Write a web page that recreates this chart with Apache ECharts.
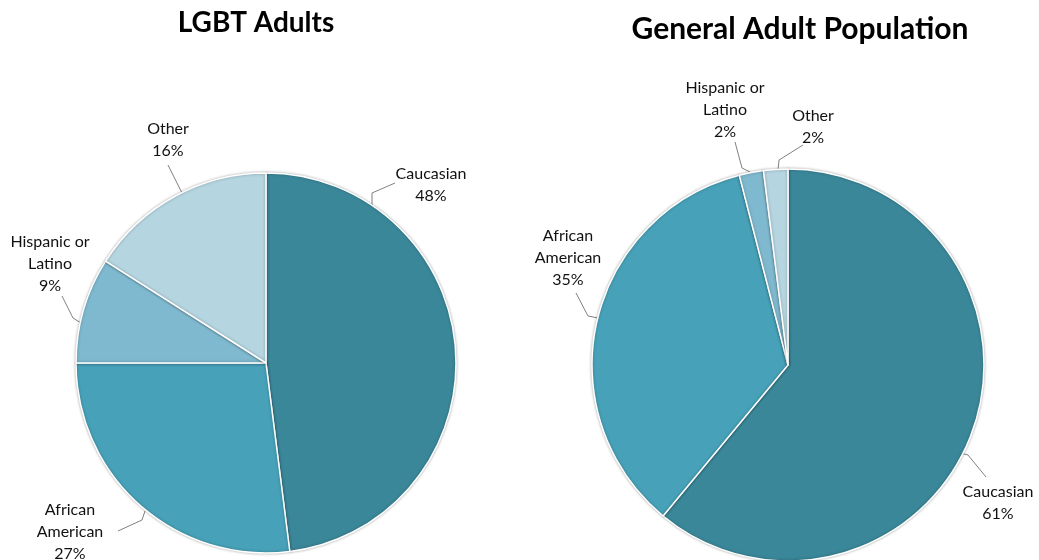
<!DOCTYPE html>
<html>
<head>
<meta charset="utf-8">
<script src="https://cdn.jsdelivr.net/npm/echarts@6/dist/echarts.min.js"></script>
<style>html,body{margin:0;padding:0;background:#fff;}#c{width:1039px;height:560px;}</style>
</head>
<body>
<div id="c"></div>
<script>
const categories = ['Caucasian', 'African\nAmerican', 'Hispanic or\nLatino', 'Other'];
const lgbtValues = [48, 27, 9, 16];
const generalValues = [61, 35, 2, 2];
const titles = ['LGBT Adults', 'General Adult Population'];
const colors = ['#3A8799', '#47A1B8', '#7FB9CF', '#B5D5E0'];

// label centre positions and leader-line paths (layout only)
const labelPos = [
  [[431, 185], [70, 532], [50, 264], [168, 140]],
  [[998, 503], [568, 258], [725, 110], [813, 127]]
];
const leaderPaths = [
  [
    [[372, 206], [372, 193], [395, 183]],
    [[145, 511], [142, 520], [118, 531]],
    [[81, 323], [73, 318], [62, 296]],
    [[183, 195], [177, 183], [168, 165]]
  ],
  [
    [[960, 453], [968, 455], [986, 477]],
    [[598, 318], [588, 316], [576, 293]],
    [[750, 172], [742, 168], [735, 142]],
    [[778, 170], [779, 160], [803, 145]]
  ]
];

const chart = echarts.init(document.getElementById('c'));
function makeSeries(vals, idx, center, radius) {
  return {
    type: 'pie',
    center: center,
    radius: radius,
    startAngle: 90,
    clockwise: true,
    animation: false,
    data: categories.map((c, i) => ({ name: c, value: vals[i], itemStyle: { color: colors[i] } })),
    itemStyle: { borderColor: '#fff', borderWidth: 1.5, shadowBlur: 3, shadowColor: 'rgba(0,0,0,0.3)' },
    label: {
      show: true,
      position: 'outside',
      formatter: p => p.name + '\n' + Math.round(p.percent) + '%',
      fontFamily: 'Lato',
      fontSize: 16,
      lineHeight: 22,
      color: '#111',
      align: 'center',
      overflow: 'none'
    },
    labelLine: { show: true, length: 10, length2: 10, lineStyle: { color: '#808080', width: 1 } },
    labelLayout: function (params) {
      const p = labelPos[idx][params.dataIndex];
      return {
        x: p[0], y: p[1], align: 'center', verticalAlign: 'middle',
        width: 200,
        labelLinePoints: leaderPaths[idx][params.dataIndex]
      };
    },
    emphasis: { disabled: true }
  };
}

chart.setOption({
  animation: false,
  title: [
    { text: titles[0], left: 251, top: 4, textAlign: 'center',
      textStyle: { fontFamily: 'Lato', fontWeight: 'bold', fontSize: 28, color: '#000' } },
    { text: titles[1], left: 795, top: 9, textAlign: 'center',
      textStyle: { fontFamily: 'Lato', fontWeight: 'bold', fontSize: 30, color: '#000' } }
  ],
  series: [
    makeSeries(lgbtValues, 0, [266, 363], 190),
    makeSeries(generalValues, 1, [788, 365], 196)
  ]
});
</script>
</body>
</html>
